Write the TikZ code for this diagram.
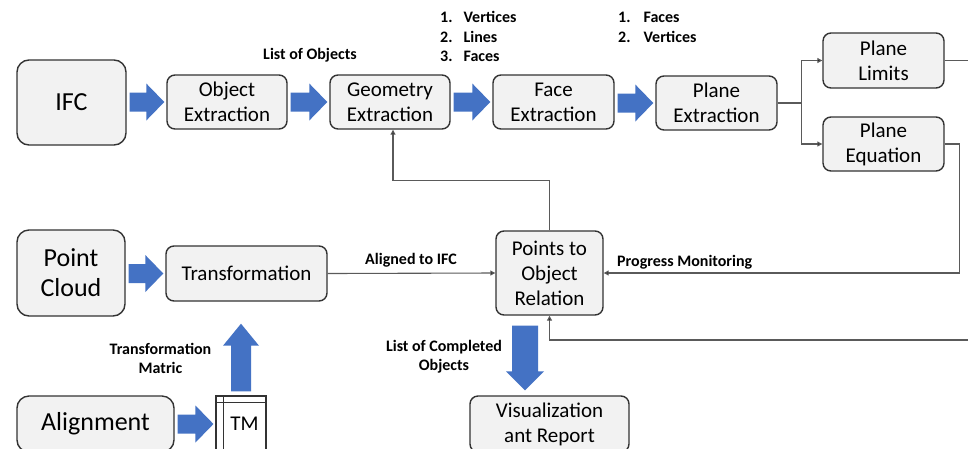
\documentclass[tikz,border=0pt]{standalone}
\usepackage{fontspec}
\setmainfont{Carlito}
\usetikzlibrary{calc,arrows.meta}
\definecolor{boxfill}{HTML}{F2F2F2}
\definecolor{boxline}{HTML}{333333}
\definecolor{blockblue}{HTML}{4472C4}
\definecolor{wire}{HTML}{5A5A5A}
\tikzset{
  procbox/.style={draw=boxline, line width=1.4pt, fill=boxfill, rounded corners=8pt,
    align=center, inner sep=0pt, font=\fontsize{21}{25}\selectfont},
  bigbox/.style={procbox, rounded corners=12pt, font=\fontsize{26}{30}\selectfont},
  conn/.style={draw=wire, line width=1.1pt, -{Triangle[length=5pt,width=5pt,fill=black]}},
  plainwire/.style={draw=wire, line width=1.1pt},
  lab/.style={font=\fontsize{16}{19}\selectfont\bfseries, inner sep=0pt, align=center},
  blockfill/.style={fill=blockblue}
}
% horizontal block arrow between two boxes
\newcommand\hblock[2]{%
  \fill[blockfill] let \p1=(#1.east), \p2=(#2.west) in
    (\x1+3pt,\y2+9.5pt) -- (\x2-20pt,\y2+9.5pt) -- (\x2-20pt,\y2+18.5pt) --
    (\x2-2pt,\y2) -- (\x2-20pt,\y2-18.5pt) -- (\x2-20pt,\y2-9.5pt) --
    (\x1+3pt,\y2-9.5pt) -- cycle;}
\begin{document}
\begin{tikzpicture}[x=1pt,y=-1pt]
\clip (0,0) rectangle (968,448);
\fill[white] (0,0) rectangle (968,448);

% upper chain
\node[bigbox, minimum width=109pt, minimum height=85pt] (ifc) at (71.5,102.5) {IFC};
\node[procbox, minimum width=120pt, minimum height=54pt] (obj) at (227,102) {Object\\Extraction};
\node[procbox, minimum width=120pt, minimum height=54pt] (geo) at (390,102) {Geometry\\Extraction};
\node[procbox, minimum width=121pt, minimum height=54pt] (face) at (553.5,102) {Face\\Extraction};
\node[procbox, minimum width=121pt, minimum height=54pt] (plane) at (716.5,103) {Plane\\Extraction};
\node[procbox, minimum width=121pt, minimum height=55pt] (limits) at (883.5,60.5) {Plane\\Limits};
\node[procbox, minimum width=121pt, minimum height=54pt] (equation) at (883.5,144) {Plane\\Equation};

% lower part
\node[bigbox, minimum width=108pt, minimum height=86pt] (pc) at (71,273) {Point\\Cloud};
\node[procbox, minimum width=161pt, minimum height=55pt] (trans) at (246.5,273.5) {Transformation};
\node[procbox, minimum width=107pt, minimum height=84pt] (ptor) at (549.5,273) {Points to\\Object\\Relation};
\node[bigbox, minimum width=157pt, minimum height=56pt] (align) at (95.5,424) {Alignment};
\node[draw=boxline, line width=1.1pt, fill=white, minimum width=50pt, minimum height=56pt,
      inner sep=0pt, font=\fontsize{21}{25}\selectfont,
      path picture={
        \draw[boxline, line width=0.8pt] ([xshift=7pt]path picture bounding box.north west) -- ([xshift=7pt]path picture bounding box.south west);
        \draw[boxline, line width=0.8pt] ([yshift=-6pt]path picture bounding box.north west) -- ([yshift=-6pt]path picture bounding box.north east);
      }] (tm) at (241,424) {\hspace*{7pt}TM};
\node[procbox, minimum width=159pt, minimum height=56pt] (vis) at (549.5,424) {Visualization\\ant Report};

% block arrows
\hblock{ifc}{obj}
\hblock{obj}{geo}
\hblock{geo}{face}
\hblock{face}{plane}
\hblock{pc}{trans}
\hblock{align}{tm}
% up arrow TM -> Transformation
\fill[blockfill] let \p1=(tm.north), \p2=(trans.south) in
  (\x1-10pt,\y1+4pt) -- (\x1-10pt,\y2-44pt) -- (\x1-18pt,\y2-44pt) -- (\x1,\y2-22pt) --
  (\x1+18pt,\y2-44pt) -- (\x1+10pt,\y2-44pt) -- (\x1+10pt,\y1+4pt) -- cycle;
% down arrow Points to Object Relation -> Visualization
\fill[blockfill] let \p1=(ptor.south), \p2=(vis.north) in
  (\x1-37.5pt,\y1-10pt) -- (\x1-37.5pt,\y2+24pt) -- (\x1-43.5pt,\y2+24pt) -- (\x1-24.5pt,\y2+5pt) --
  (\x1-5.5pt,\y2+24pt) -- (\x1-11.5pt,\y2+24pt) -- (\x1-11.5pt,\y1-10pt) -- cycle;

% thin connectors
\draw[plainwire] (plane.east) -- ++(24,0) coordinate (branch);
\draw[conn] (branch) |- (limits.west);
\draw[conn] (branch) |- (equation.west);
\draw[conn] (trans.east) -- (ptor.west);
\draw[conn] (ptor.north) -- ++(0,-50) -| ([xshift=3pt]geo.south);
\draw[conn] (equation.east) -- ++(15,0) |- (ptor.east);
\draw[conn] (limits.east) -- (990,60.5) -- (990,340) -| (ptor.south);

% labels
\node[lab] (lobj) at (310,55) {List of Objects};
\node[lab, anchor=north west, align=left, font=\fontsize{16}{19.5}\selectfont\bfseries] (lverts) at (440,9)
  {\begin{tabular}{@{}l@{\hspace{11pt}}l@{}}1.&Vertices\\2.&Lines\\3.&Faces\end{tabular}};
\node[lab, anchor=north west, align=left, font=\fontsize{16}{19.5}\selectfont\bfseries] (lfaces) at (618,9)
  {\begin{tabular}{@{}l@{\hspace{13pt}}l@{}}1.&Faces\\2.&Vertices\end{tabular}};
\node[lab] (laligned) at (411,260) {Aligned to IFC};
\node[lab, anchor=west] (lprog) at (617,262) {Progress Monitoring};
\node[lab] (lmat) at (160.5,358) {Transformation\\Matric};
\node[lab] (ldone) at (444,357) {List of Completed\\Objects};
\end{tikzpicture}
\end{document}
